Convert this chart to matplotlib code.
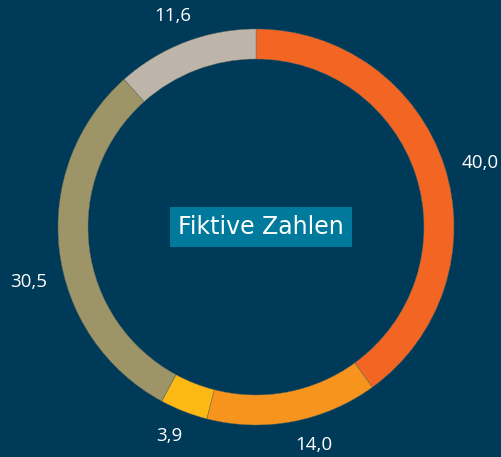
import numpy as np
import matplotlib.pyplot as plt

# data
values = [40.0, 14.0, 3.9, 30.5, 11.6]
labels = ["40,0", "14,0", "3,9", "30,5", "11,6"]
colors = ["#f26522", "#f7941d", "#fdb913", "#9d9567", "#bdb5aa"]
title = "Fiktive Zahlen"

# layout: small angular nudges of the value labels (degrees, ccw)
label_nudge = [-2, 4, -1, 7, 0.6]

bg = "#003a59"
plt.rcParams['font.family'] = ['Open Sans', 'DejaVu Sans']

fig = plt.figure(figsize=(5.01, 4.57), dpi=100, facecolor=bg)
ax = fig.add_axes([0, 0, 1, 1])
ax.set_facecolor(bg)

cx, cy, R = 256, 230, 198
wedges, _ = ax.pie(values, colors=colors, startangle=90, counterclock=False,
                   center=(cx, cy), radius=R, frame=True,
                   wedgeprops=dict(width=30, edgecolor="#6a6a5a", linewidth=0.3))
ax.set_xlim(0, 501)
ax.set_ylim(0, 457)
ax.set_aspect('equal')
ax.axis('off')

# value labels outside the ring (pushed out a bit more on the sides, text is wide)
for w, lab, nd in zip(wedges, labels, label_nudge):
    ang = np.deg2rad((w.theta1 + w.theta2) / 2 + nd)
    r = R + 24 + 12 * abs(np.cos(ang))
    ax.text(cx + r * np.cos(ang), cy + r * np.sin(ang), lab,
            ha='center', va='center', color='white', fontsize=13.5)

ax.text(cx + 5, cy, title, ha='center', va='center', color='white',
        fontsize=17, family='DejaVu Sans',
        bbox=dict(boxstyle='square,pad=0.33', facecolor='#007a9c', edgecolor='none'))

fig.savefig("out.png", dpi=100, facecolor=bg)
